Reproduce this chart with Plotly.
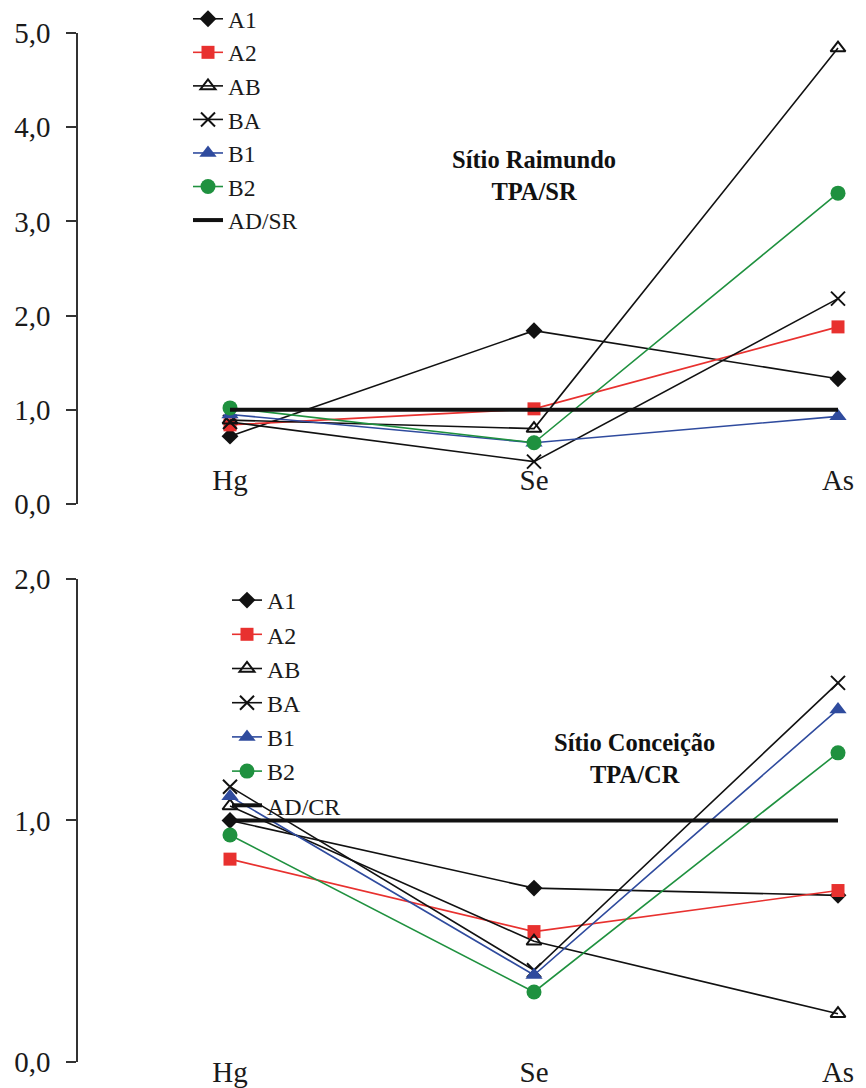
import plotly.graph_objects as go

elements = ["Hg", "Se", "As"]
series_names = ["A1", "A2", "AB", "BA", "B1", "B2"]

# Sítio Raimundo (TPA/SR)
sr_A1 = [0.72, 1.84, 1.33]
sr_A2 = [0.84, 1.01, 1.88]
sr_AB = [0.89, 0.80, 4.84]
sr_BA = [0.87, 0.45, 2.18]
sr_B1 = [0.95, 0.65, 0.93]
sr_B2 = [1.02, 0.65, 3.30]
sr_ref = [1.0, 1.0, 1.0]

# Sítio Conceição (TPA/CR)
cr_A1 = [1.00, 0.72, 0.69]
cr_A2 = [0.84, 0.54, 0.71]
cr_AB = [1.06, 0.50, 0.20]
cr_BA = [1.14, 0.38, 1.57]
cr_B1 = [1.10, 0.36, 1.46]
cr_B2 = [0.94, 0.29, 1.28]
cr_ref = [1.0, 1.0, 1.0]

top_ticks = [0, 1, 2, 3, 4, 5]
top_ticktext = ["0,0", "1,0", "2,0", "3,0", "4,0", "5,0"]
bot_ticks = [0, 1, 2]
bot_ticktext = ["0,0", "1,0", "2,0"]

FONT = "Liberation Serif, Times New Roman, Times, serif"
TXT = "#1a1a1a"
styles = {
    "A1": dict(color="#111111", symbol="diamond", size=13, line=dict(width=0)),
    "A2": dict(color="#E8312F", symbol="square", size=13, line=dict(width=0)),
    "AB": dict(color="#111111", symbol="triangle-up-open", size=13, line=dict(width=2, color="#111111")),
    "BA": dict(color="#111111", symbol="x-thin-open", size=14, line=dict(width=2, color="#111111")),
    "B1": dict(color="#2F4B9E", symbol="triangle-up", size=15, line=dict(width=0)),
    "B2": dict(color="#1F913F", symbol="circle", size=15, line=dict(width=0)),
}
line_colors = {"A1": "#111111", "A2": "#E8312F", "AB": "#111111", "BA": "#111111",
               "B1": "#2F4B9E", "B2": "#1F913F"}

x_pos = [0, 1, 2]

fig = go.Figure()

sr_data = [sr_A1, sr_A2, sr_AB, sr_BA, sr_B1, sr_B2]
cr_data = [cr_A1, cr_A2, cr_AB, cr_BA, cr_B1, cr_B2]

for name, vals in zip(series_names, sr_data):
    fig.add_trace(go.Scatter(x=x_pos, y=vals, mode="lines+markers", name=name,
                             line=dict(color=line_colors[name], width=1.6),
                             marker=styles[name], xaxis="x", yaxis="y",
                             legend="legend", cliponaxis=False))
fig.add_trace(go.Scatter(x=x_pos, y=sr_ref, mode="lines", name="AD/SR",
                         line=dict(color="#111111", width=4), xaxis="x", yaxis="y",
                         legend="legend", cliponaxis=False))

for name, vals in zip(series_names, cr_data):
    fig.add_trace(go.Scatter(x=x_pos, y=vals, mode="lines+markers", name=name,
                             line=dict(color=line_colors[name], width=1.6),
                             marker=styles[name], xaxis="x2", yaxis="y2",
                             legend="legend2", cliponaxis=False))
fig.add_trace(go.Scatter(x=x_pos, y=cr_ref, mode="lines", name="AD/CR",
                         line=dict(color="#111111", width=4), xaxis="x2", yaxis="y2",
                         legend="legend2", cliponaxis=False))

FW, FH = 858, 1080
T, B = 25, 26
PH = FH - T - B
axis_font = dict(family=FONT, size=29, color=TXT)
L = 70
W = FW - L
XR = [-0.5, -0.5 + W / 304.0]

fig.update_layout(
    width=FW, height=FH,
    margin=dict(l=L, r=0, t=T, b=B, autoexpand=False),
    paper_bgcolor="white", plot_bgcolor="white",
    font=dict(family=FONT, size=24, color=TXT),
    showlegend=True,
    xaxis=dict(domain=[0, 1], range=XR, anchor="free", position=0.585,
               tickvals=x_pos, ticktext=elements, showline=False, showgrid=False,
               zeroline=False, ticks="", tickfont=axis_font),
    yaxis=dict(domain=[0.5423, 1], range=[0, 5], anchor="x",
               tickvals=top_ticks, ticktext=top_ticktext, showline=True,
               linecolor="#333333", linewidth=1.6, ticks="outside", ticklen=10,
               tickcolor="#333333", tickwidth=1.6, showgrid=False, zeroline=False,
               ticklabelstandoff=10, tickfont=axis_font),
    xaxis2=dict(domain=[0, 1], range=XR, anchor="free", position=0.0097,
                tickvals=x_pos, ticktext=elements, showline=False, showgrid=False,
                zeroline=False, ticks="", tickfont=axis_font),
    yaxis2=dict(domain=[0, 0.4694], range=[0, 2], anchor="x2",
                tickvals=bot_ticks, ticktext=bot_ticktext, showline=True,
                linecolor="#333333", linewidth=1.6, ticks="outside", ticklen=10,
                tickcolor="#333333", tickwidth=1.6, showgrid=False, zeroline=False,
                ticklabelstandoff=10, tickfont=axis_font),
    legend=dict(x=(180 - L) / W, y=(FH - B + 11) / PH, xref="paper", yref="paper",
                xanchor="left", yanchor="top",
                bgcolor="rgba(0,0,0,0)", font=dict(family=FONT, size=23.5, color=TXT),
                itemwidth=30, tracegroupgap=0),
    legend2=dict(x=219 / FW, y=1 - 570 / FH, xref="container", yref="container",
                 xanchor="left", yanchor="top",
                 bgcolor="rgba(0,0,0,0)", font=dict(family=FONT, size=24, color=TXT),
                 itemwidth=30, tracegroupgap=0),
    annotations=[
        dict(text="<b>Sítio Raimundo</b><br><b>TPA/SR</b>", x=1, y=3.49, xref="x", yref="y",
             showarrow=False, font=dict(family=FONT, size=24.5, color="#111111"), align="center"),
        dict(text="<b>Sítio Conceição</b><br><b>TPA/CR</b>", x=1.33, y=1.255, xref="x2", yref="y2",
             showarrow=False, font=dict(family=FONT, size=24.5, color="#111111"), align="center"),
    ],
)

fig.write_html("out.html")
